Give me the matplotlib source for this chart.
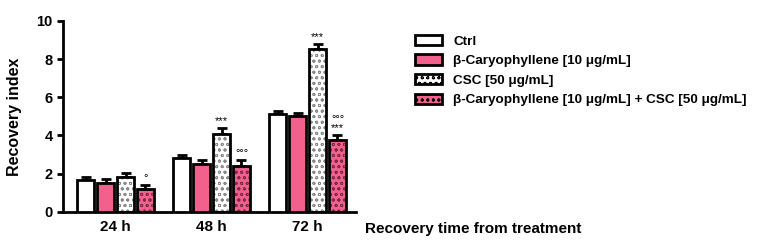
import numpy as np
import matplotlib.pyplot as plt
from matplotlib.patches import Patch

plt.rcParams['font.family'] = ['Liberation Sans', 'DejaVu Sans']
plt.rcParams['font.weight'] = 'bold'
plt.rcParams['axes.labelweight'] = 'bold'
plt.rcParams['hatch.linewidth'] = 0.6

times = ["24 h", "48 h", "72 h"]
groups = ["Ctrl", "β-Caryophyllene [10 μg/mL]", "CSC [50 μg/mL]",
          "β-Caryophyllene [10 μg/mL] + CSC [50 μg/mL]"]
ctrl = [1.65, 2.8, 5.1]
bcp = [1.5, 2.5, 5.0]
csc = [1.85, 4.1, 8.55]
combo = [1.2, 2.4, 3.75]
ctrl_err = [0.2, 0.2, 0.2]
bcp_err = [0.2, 0.2, 0.2]
csc_err = [0.2, 0.3, 0.25]
combo_err = [0.2, 0.3, 0.3]
csc_marks = ["", "***", "***"]
combo_marks = ["°", "°°°", "°°°\n***"]

pink = "#f2608e"
values = [ctrl, bcp, csc, combo]
errors = [ctrl_err, bcp_err, csc_err, combo_err]
faces = ["white", pink, "white", pink]
hatches = [None, None, "ooo", "ooo"]
hcolors = [None, None, "#888888", "#7a2a45"]

fig = plt.figure(figsize=(7.64, 2.45), dpi=100)
ax = fig.add_axes([0.0825, 0.135, 0.3835, 0.78])

x = np.arange(len(times))
w = 0.175
step = 0.208
for i in range(4):
    pos = x + (i - 1.5) * step
    if hatches[i]:
        ax.bar(pos, values[i], w, color=faces[i], hatch=hatches[i],
               edgecolor=hcolors[i], linewidth=0, zorder=2)
        ax.bar(pos, values[i], w, color="none", edgecolor="black",
               linewidth=2, zorder=3)
    else:
        ax.bar(pos, values[i], w, color=faces[i], edgecolor="black",
               linewidth=2, zorder=3)
    ax.errorbar(pos, values[i], yerr=[np.zeros(3), errors[i]], fmt="none",
                ecolor="black", elinewidth=2, capsize=3.5, capthick=2, zorder=1)

for j in range(3):
    p = x[j] + 0.5 * step
    if csc_marks[j]:
        ax.text(p, csc[j] + csc_err[j] + 0.1, csc_marks[j], ha="center",
                va="bottom", fontsize=8, fontweight="normal", linespacing=0.8)
    p = x[j] + 1.5 * step
    ax.text(p, combo[j] + combo_err[j] + 0.1, combo_marks[j], ha="center",
            va="bottom", fontsize=8, fontweight="normal", linespacing=0.8)

ax.set_xlim(-0.547, 2.505)
ax.set_ylim(0, 10)
ax.set_yticks([0, 2, 4, 6, 8, 10])
ax.set_xticks(x)
ax.set_xticklabels(times, fontsize=11)
ax.tick_params(axis="x", length=0, pad=6)
ax.tick_params(axis="y", labelsize=10.5, width=2, length=4)
ax.spines[["top", "right"]].set_visible(False)
ax.spines["left"].set_linewidth(2)
ax.spines["bottom"].set_linewidth(2)
ax.set_ylabel("Recovery index", fontsize=11.5, labelpad=10)

fig.text(0.478, 0.065, "Recovery time from treatment", fontsize=11,
         ha="left", va="center")

handles = []
for i in range(4):
    handles.append(Patch(facecolor=faces[i], edgecolor="black", linewidth=2,
                         hatch=hatches[i], label=groups[i]))
fig.legend(handles=handles, loc="upper left", bbox_to_anchor=(0.535, 0.885),
           frameon=False, fontsize=9.7, handlelength=2.0, handleheight=0.8,
           labelspacing=0.5, handletextpad=0.8, borderpad=0)

fig.savefig("out.png", dpi=100)
